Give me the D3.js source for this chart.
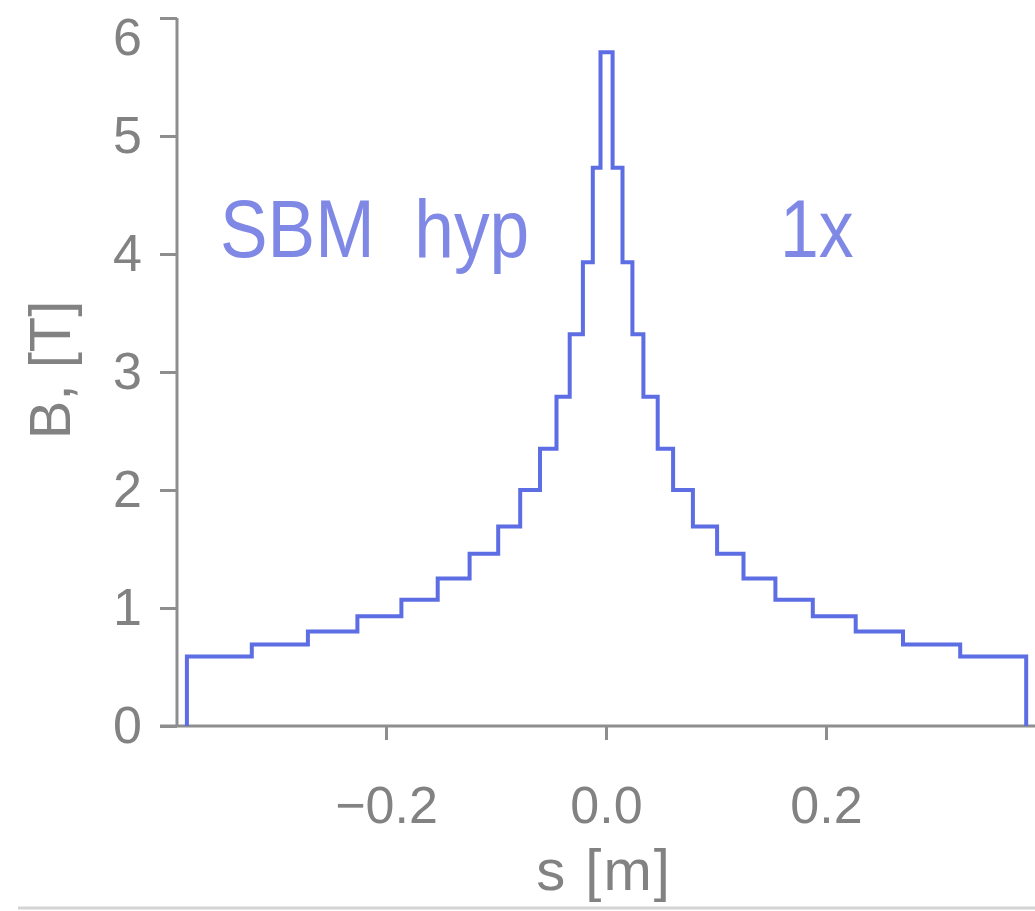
<!DOCTYPE html>
<html>
<head>
<meta charset="utf-8">
<script src="https://cdn.jsdelivr.net/npm/d3@7"></script>
<style>
  html, body { margin: 0; padding: 0; background: #fff; }
  svg { display: block; }
  text { font-family: "Liberation Sans", Arial, sans-serif; }
</style>
</head>
<body>
<svg id="chart" width="1035" height="911"></svg>
<script>
// Step boundaries along s [m]
const edges = [-0.381, -0.322, -0.271, -0.226, -0.186, -0.153, -0.124, -0.098, -0.078, -0.060,
               -0.045, -0.033, -0.021, -0.012, -0.005,
                0.006, 0.015, 0.024, 0.034, 0.047, 0.061, 0.079, 0.101, 0.125, 0.154,
                0.188, 0.227, 0.270, 0.322, 0.382];
// Field level B [T] on each segment between consecutive edges
const levels = [0.59, 0.69, 0.80, 0.93, 1.07, 1.25, 1.46, 1.69, 2.00, 2.35, 2.79, 3.32, 3.93, 4.73,
                5.71,
                4.73, 3.93, 3.32, 2.79, 2.35, 2.00, 1.69, 1.46, 1.25, 1.07, 0.93, 0.80, 0.69, 0.59];
const xTicks = [-0.2, 0.0, 0.2];
const yTicks = [0, 1, 2, 3, 4, 5, 6];
const xTitle = "s [m]";
const yTitle = "B, [T]";
const label1 = "SBM  hyp";
const label2 = "1x";

const svg = d3.select("#chart");
svg.append("rect").attr("width", 1035).attr("height", 911).attr("fill", "#fff");

const x = d3.scaleLinear().domain([-0.39, 0.39]).range([177, 1035]);
const y = d3.scaleLinear().domain([0, 6]).range([726, 18]);

const axisColor = "#8e8e8e";
const textColor = "#828282";
const lineColor = "#5d6de3";
const labelColor = "#8088e6";

// bottom frame line
svg.append("line").attr("x1", 18).attr("x2", 1035).attr("y1", 908).attr("y2", 908)
  .attr("stroke", "#d4d4d4").attr("stroke-width", 3);

// Y axis
const yAxis = svg.append("g").attr("transform", `translate(${x(-0.39)},0)`)
  .call(d3.axisLeft(y).tickValues(yTicks).tickFormat(d3.format("d")).tickSize(17).tickPadding(18));
// X axis
const xAxis = svg.append("g").attr("transform", `translate(0,${y(0)})`)
  .call(d3.axisBottom(x).tickValues(xTicks).tickFormat(d3.format(".1f")).tickSize(14));

[xAxis, yAxis].forEach(g => {
  g.select(".domain").attr("stroke", axisColor).attr("stroke-width", 3);
  g.selectAll(".tick line").attr("stroke", axisColor).attr("stroke-width", 3);
  g.selectAll(".tick text").attr("fill", textColor).attr("font-size", 52)
    .attr("font-family", "'Liberation Sans', Arial, sans-serif");
});
yAxis.select(".domain").attr("d", `M0,${y(6)}V${y(0)}`);
xAxis.select(".domain").attr("d", `M${x(-0.39) - 17},0H1035`);
// top y label sits lower (kept inside the image)
yAxis.selectAll(".tick").filter(d => d === 6).select("text").attr("dy", "0.7em");
// x tick labels: baseline ~97px below the axis line
xAxis.selectAll(".tick text").attr("y", 97).attr("dy", null);

// Step line
const pts = [[edges[0], 0]];
levels.forEach((v, i) => pts.push([edges[i], v]));
pts.push([edges[edges.length - 1], levels[levels.length - 1]]);
pts.push([edges[edges.length - 1], 0]);
const line = d3.line().x(d => x(d[0])).y(d => y(d[1])).curve(d3.curveStepAfter);
svg.append("path").attr("d", line(pts)).attr("fill", "none")
  .attr("stroke", lineColor).attr("stroke-width", 4).attr("stroke-linejoin", "miter");

// Titles
svg.append("text").attr("x", 604).attr("y", 890).attr("text-anchor", "middle")
  .attr("font-size", 58).attr("letter-spacing", 2).attr("fill", textColor).text(xTitle);
svg.append("text").attr("transform", "translate(70,370) rotate(-90)").attr("text-anchor", "middle")
  .attr("font-size", 58).attr("fill", textColor).text(yTitle);

// Annotations
svg.append("text").attr("transform", "translate(220,257) scale(0.87,1)")
  .attr("font-size", 82).attr("fill", labelColor).style("white-space", "pre").text(label1);
svg.append("text").attr("transform", "translate(780,257) scale(0.85,1)")
  .attr("font-size", 82).attr("fill", labelColor).style("white-space", "pre").text(label2);
</script>
</body>
</html>
